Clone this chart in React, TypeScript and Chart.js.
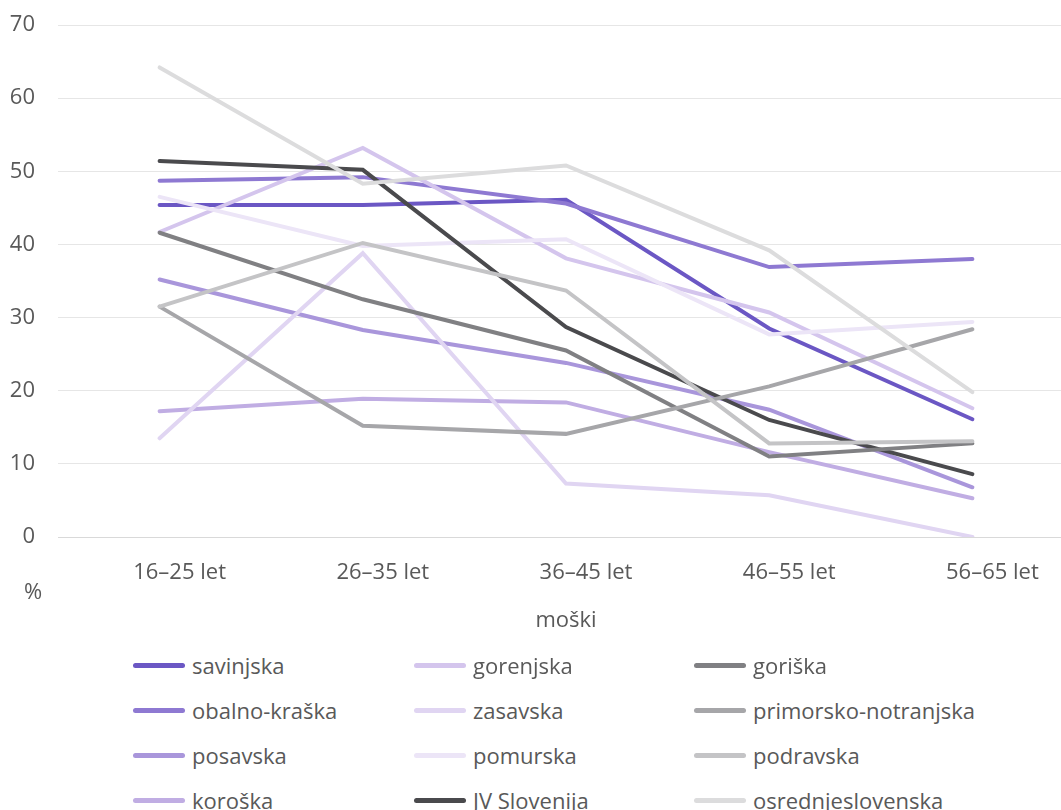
import React, { useEffect, useRef } from "react";
import { Chart, registerables } from "chart.js";

Chart.register(...registerables);

const categories = ["16–25 let", "26–35 let", "36–45 let", "46–55 let", "56–65 let"];
const yTickValues = [0, 10, 20, 30, 40, 50, 60, 70];

const savinjska = [45.4, 45.4, 46.1, 28.5, 16.1];
const obalnoKraska = [48.7, 49.2, 45.6, 36.9, 38.0];
const posavska = [35.2, 28.3, 23.8, 17.4, 6.8];
const koroska = [17.2, 18.9, 18.4, 11.6, 5.3];
const gorenjska = [41.7, 53.2, 38.1, 30.7, 17.6];
const zasavska = [13.5, 38.8, 7.3, 5.7, 0.0];
const pomurska = [46.5, 39.8, 40.7, 27.7, 29.4];
const jvSlovenija = [51.4, 50.2, 28.7, 16.0, 8.6];
const goriska = [41.6, 32.5, 25.5, 11.0, 12.8];
const primorskoNotranjska = [31.5, 15.2, 14.1, 20.6, 28.4];
const podravska = [31.5, 40.2, 33.7, 12.8, 13.1];
const osrednjeslovenska = [64.2, 48.3, 50.8, 39.2, 19.8];

const seriesNames = [
  "savinjska", "obalno-kraška", "posavska", "koroška",
  "gorenjska", "zasavska", "pomurska", "JV Slovenija",
  "goriška", "primorsko-notranjska", "podravska", "osrednjeslovenska",
];
const seriesValues = [
  savinjska, obalnoKraska, posavska, koroska,
  gorenjska, zasavska, pomurska, jvSlovenija,
  goriska, primorskoNotranjska, podravska, osrednjeslovenska,
];
const seriesColors = [
  "#6b57c4", "#8e79d2", "#a996db", "#c0ade3",
  "#d4c5ed", "#e0d5f2", "#ece5f7", "#4a4a4d",
  "#808083", "#a6a6a9", "#c4c4c6", "#dcdcdd",
];

const xAxisTitle = "moški";
const yUnit = "%";

const FONT = "'Open Sans', sans-serif";
const TEXT = "#595959";
const FS = 22;

export default function App() {
  const ref = useRef<HTMLCanvasElement | null>(null);

  useEffect(() => {
    if (!ref.current) return;
    const n = seriesNames.length;
    const chart = new Chart(ref.current, {
      type: "line",
      data: {
        labels: categories,
        datasets: seriesNames.map((name, i) => ({
          label: name,
          data: seriesValues[i],
          borderColor: seriesColors[i],
          backgroundColor: seriesColors[i],
          borderWidth: 4,
          pointRadius: 0,
          pointHoverRadius: 0,
          tension: 0,
          borderCapStyle: "round" as const,
          borderJoinStyle: "miter" as const,
          order: n - i,
        })),
      },
      options: {
        responsive: false,
        animation: false,
        layout: { padding: { top: 25, right: 0, left: 0, bottom: 0 } },
        plugins: {
          legend: { display: false },
          tooltip: { enabled: false },
        },
        scales: {
          x: {
            offset: true,
            grid: { display: false, drawTicks: false },
            border: { display: false },
            ticks: {
              color: TEXT,
              font: { family: FONT, size: FS },
              padding: 23,
              maxRotation: 0,
              labelOffset: 20,
            },
            afterFit: (s: any) => {
              s.height = 103;
              s.paddingLeft = 0;
              s.paddingRight = 0;
            },
          },
          y: {
            min: 0,
            max: 70,
            afterBuildTicks: (s: any) => {
              s.ticks = yTickValues.map((v) => ({ value: v }));
            },
            grid: {
              drawTicks: false,
              color: (c: any) => (c.tick && c.tick.value === 0 ? "#d9d9d9" : "#e6e6e6"),
              lineWidth: 1,
            },
            border: { display: false },
            ticks: {
              color: TEXT,
              font: { family: FONT, size: FS },
              padding: 23,
            },
            afterFit: (s: any) => {
              s.width = 58;
              s.paddingTop = 0;
              s.paddingBottom = 0;
            },
          },
        },
      },
    });
    return () => chart.destroy();
  }, []);

  const rowCenters = [665, 710, 755, 800];
  const colLefts = [133, 414, 694];

  return (
    <div
      style={{
        position: "absolute",
        left: 0,
        top: 0,
        width: 1061,
        height: 810,
        overflow: "hidden",
        background: "#fff",
        fontFamily: FONT,
        color: TEXT,
      }}
    >
      <canvas ref={ref} width={1074} height={640} style={{ position: "absolute", left: 0, top: 0, width: 1074, height: 640 }} />
      <div style={{ position: "absolute", left: 13, width: 40, top: 576, lineHeight: "28px", fontSize: FS, textAlign: "center" }}>
        {yUnit}
      </div>
      <div style={{ position: "absolute", left: 466, width: 200, top: 604, lineHeight: "28px", fontSize: FS, textAlign: "center" }}>
        {xAxisTitle}
      </div>
      {seriesNames.map((name, i) => {
        const col = Math.floor(i / 4);
        const row = i % 4;
        return (
          <div
            key={name}
            style={{
              position: "absolute",
              left: colLefts[col],
              top: rowCenters[row] - 14,
              height: 28,
              display: "flex",
              alignItems: "center",
              fontSize: FS,
              lineHeight: "28px",
              whiteSpace: "nowrap",
            }}
          >
            <span
              style={{
                display: "inline-block",
                width: 52,
                height: 5,
                borderRadius: 3,
                background: seriesColors[i],
                marginRight: 7,
              }}
            />
            <span>{name}</span>
          </div>
        );
      })}
    </div>
  );
}
